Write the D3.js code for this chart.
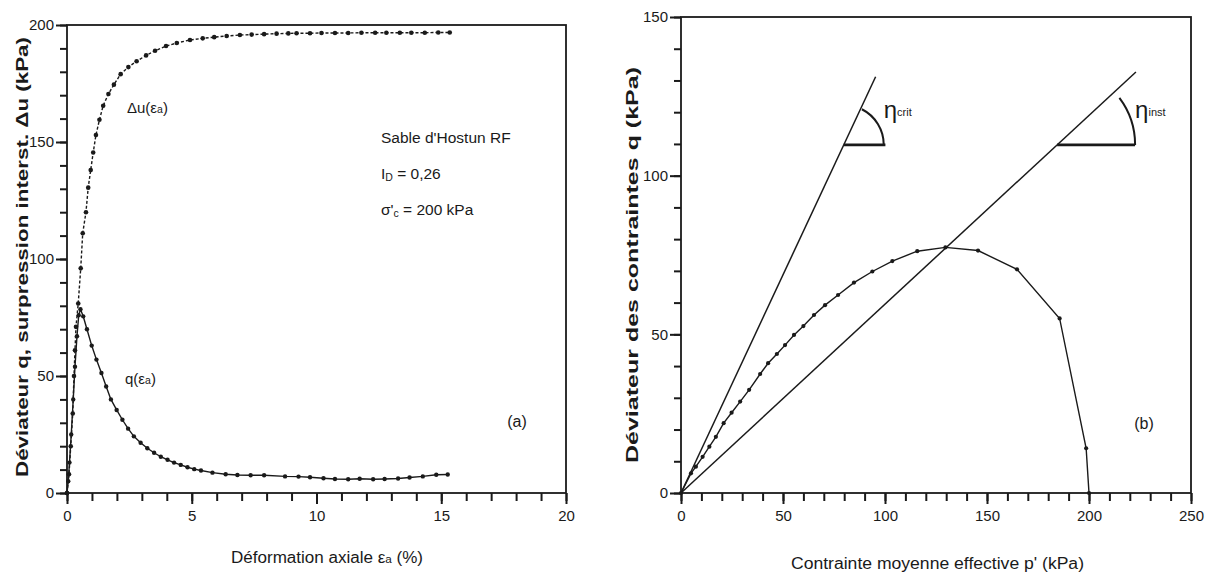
<!DOCTYPE html>
<html><head><meta charset="utf-8">
<script src="https://cdn.jsdelivr.net/npm/d3@7"></script>
<style>
body{margin:0;background:#fff;}
svg{display:block;}
text{font-family:"Liberation Sans Narrow","Liberation Sans",Arial,sans-serif;fill:#1a1a1a;}
</style></head>
<body>
<svg id="c" width="1212" height="579"></svg>
<script>
// ---------- data ----------
// (a) axial strain εa (%) vs pore pressure Δu (kPa)
const duStrain = [0,0.08,0.15,0.23,0.28,0.32,0.36,0.45,0.55,0.63,0.76,0.85,0.95,1.05,1.16,1.3,1.45,1.66,1.88,2.15,2.46,2.79,3.17,3.53,3.97,4.4,4.93,5.44,5.9,6.4,6.93,7.4,7.9,8.4,8.87,9.2,9.74,10.2,10.74,11.27,11.8,12.35,12.8,13.34,13.8,14.34,14.88,15.34];
const duValues = [0,8,20,34,50,61,71,81,96,111,120,130.5,138,145.5,153,159.5,165.5,170.5,174.5,179,182,184.5,187,189,191,192.3,193.6,194.3,194.8,195.3,195.7,195.9,196.1,196.3,196.4,196.5,196.5,196.6,196.6,196.6,196.7,196.7,196.7,196.7,196.7,196.7,196.8,196.8];
// (a) axial strain εa (%) vs deviator q (kPa)
const qStrain = [0,0.05,0.1,0.17,0.25,0.32,0.4,0.47,0.54,0.65,0.8,0.99,1.18,1.38,1.57,1.76,1.99,2.22,2.45,2.68,2.95,3.22,3.49,3.76,4.03,4.29,4.56,4.83,5.1,5.37,5.83,6.36,6.83,7.36,7.9,8.74,9.28,9.74,10.28,10.74,11.27,11.73,12.27,12.73,13.27,13.73,14.26,14.8,15.26];
const qValues = [0,5,13,25,40,54,67,76,78.5,75.5,70,63,57,51.3,45.5,40,35.5,31.3,27.5,24.2,21.5,19.1,17.2,15.5,14.2,13,12,11,10.2,9.6,8.7,8,7.7,7.6,7.6,7.1,7,6.7,6.3,6,5.9,6.1,5.9,6,6.2,6.6,7.1,7.8,7.9];
// (b) stress path p' (kPa) vs q (kPa)
const pathP = [200,198.6,185.6,164.7,145.6,129.6,115.8,103.6,93.8,84.8,77,70.6,65.2,60,55.4,51,47,42.7,38.8,33.4,29,24.8,20.9,17.1,13.9,10.6,7.3,4.9,0];
const pathQ = [0,14.1,55,70.5,76.4,77.4,76.2,73.1,69.8,66.3,62.4,59.2,56.1,52.6,49.8,46.6,43.8,40.9,37.5,32.5,28.8,25.3,22,17.7,14.6,11.4,8.3,6.2,0];
// (b) straight lines: slopes η_crit and η_inst (q/p'), end p'
const lineNames = ["crit","inst"];
const lineSlopes = [1.375,0.595];
const lineEndP = [95.4,223];
const symbolQ = [109.7,109.7];   // q level of the angle symbols
const symbolEndP = [100.2,222.6];

// tick values
const xTicksA = [0,5,10,15,20];
const yTicksA = [0,50,100,150,200];
const xTicksB = [0,50,100,150,200,250];
const yTicksB = [0,50,100,150];

// texts
const yLabelA = "Déviateur q, surpression interst. Δu (kPa)";
const yLabelB = "Déviateur des contraintes q (kPa)";
const infoLines = ["Sable d'Hostun RF","I|D| = 0,26","σ'|c| = 200 kPa"];

// ---------- drawing ----------
const svg = d3.select("#c");
const ink = "#1a1a1a";

const xA = d3.scaleLinear([0,20],[67,566]);
const yA = d3.scaleLinear([0,200],[493,25]);
const xB = d3.scaleLinear([0,250],[681,1191]);
const yB = d3.scaleLinear([0,150],[493,17]);

function axes(x, y, xt, yt, xMinorStep, yMinorStep){
  const g = svg.append("g");
  const [x0,x1] = x.domain(), [y0,y1] = y.domain();
  const xMinor = d3.range(x0, x1 + 1e-9, xMinorStep);
  const yMinor = d3.range(y0, y1 + 1e-9, yMinorStep);
  const noLabel = () => "";
  // minor ticks
  g.append("g").attr("color",ink).attr("transform",`translate(0,${y(y0)})`)
    .call(d3.axisBottom(x).tickValues(xMinor).tickSize(8).tickFormat(noLabel))
    .call(s=>s.select(".domain").remove());
  g.append("g").attr("color",ink).attr("transform",`translate(${x(x0)},0)`)
    .call(d3.axisLeft(y).tickValues(yMinor).tickSize(7).tickFormat(noLabel))
    .call(s=>s.select(".domain").remove());
  // major ticks + labels
  g.append("g").attr("color",ink).attr("transform",`translate(0,${y(y0)})`)
    .call(d3.axisBottom(x).tickValues(xt).tickSize(11).tickPadding(6).tickFormat(d3.format("d")))
    .call(s=>s.select(".domain").remove());
  g.append("g").attr("color",ink).attr("transform",`translate(${x(x0)},0)`)
    .call(d3.axisLeft(y).tickValues(yt).tickSize(11).tickPadding(2).tickFormat(d3.format("d")))
    .call(s=>s.select(".domain").remove());
  g.selectAll(".tick line").attr("stroke",ink).attr("stroke-width",2);
  g.selectAll(".tick text").attr("font-size",15).attr("fill",ink)
    .style("font-family",'"Liberation Sans Narrow","Liberation Sans",Arial,sans-serif');
  // frame
  g.append("rect").attr("x",x(x0)).attr("y",y(y1))
    .attr("width",x(x1)-x(x0)).attr("height",y(y0)-y(y1))
    .attr("fill","none").attr("stroke",ink).attr("stroke-width",1.8);
}
axes(xA, yA, xTicksA, yTicksA, 1, 10);
axes(xB, yB, xTicksB, yTicksB, 10, 10);

function series(x, y, xs, ys, dash, r){
  const pts = xs.map((v,i)=>[v, ys[i]]);
  svg.append("path").datum(pts)
    .attr("d", d3.line().x(d=>x(d[0])).y(d=>y(d[1])))
    .attr("fill","none").attr("stroke",ink).attr("stroke-width",1.4)
    .attr("stroke-dasharray",dash);
  svg.append("g").selectAll("circle").data(pts).join("circle")
    .attr("cx",d=>x(d[0])).attr("cy",d=>y(d[1])).attr("r",r).attr("fill",ink);
}
series(xA, yA, duStrain, duValues, "3,2", 2.3);
series(xA, yA, qStrain, qValues, null, 2.2);
series(xB, yB, pathP, pathQ, null, 2.1);

// straight lines and angle symbols in (b)
const arcR = [40, 78];
const arcStart = [63, 37];
lineNames.forEach((n,i)=>{
  const s = lineSlopes[i];
  svg.append("line")
    .attr("x1",xB(0)).attr("y1",yB(0))
    .attr("x2",xB(lineEndP[i])).attr("y2",yB(lineEndP[i]*s))
    .attr("stroke",ink).attr("stroke-width",1.5);
  const cx = xB(symbolQ[i]/s), cy = yB(symbolQ[i]);
  svg.append("line").attr("x1",cx).attr("y1",cy)
    .attr("x2",xB(symbolEndP[i])).attr("y2",cy)
    .attr("stroke",ink).attr("stroke-width",2.8);
  const r = arcR[i], a = arcStart[i]*Math.PI/180;
  svg.append("path")
    .attr("d",`M${cx + r*Math.cos(a)},${cy - r*Math.sin(a)} A${r},${r} 0 0 1 ${cx + r},${cy}`)
    .attr("fill","none").attr("stroke",ink).attr("stroke-width",2);
  const t = svg.append("text")
    .attr("x", cx + r).attr("y", cy - 27);
  t.append("tspan").attr("font-size",24).text("η");
  t.append("tspan").attr("font-size",11).attr("dy",-2).text(n);
});

// axis titles
svg.append("text").attr("transform","translate(24,257) rotate(-90)")
  .attr("text-anchor","middle").attr("dominant-baseline","middle")
  .attr("font-size",17).attr("font-weight","bold")
  .attr("textLength",440).attr("lengthAdjust","spacingAndGlyphs")
  .text(yLabelA);
svg.append("text").attr("transform","translate(634,265) rotate(-90)")
  .attr("text-anchor","middle").attr("dominant-baseline","middle")
  .attr("font-size",17).attr("font-weight","bold")
  .attr("textLength",396).attr("lengthAdjust","spacingAndGlyphs")
  .text(yLabelB);

const xlA = svg.append("text").attr("x",231).attr("y",563).attr("font-size",16)
  .attr("textLength",192).attr("lengthAdjust","spacingAndGlyphs");
xlA.append("tspan").text("Déformation axiale ε");
xlA.append("tspan").attr("font-size",11).text("a");
xlA.append("tspan").text(" (%)");
svg.append("text").attr("x",791).attr("y",569).attr("font-size",16)
  .attr("textLength",293).attr("lengthAdjust","spacingAndGlyphs")
  .text("Contrainte moyenne effective p' (kPa)");

// curve labels in (a)
function subLabel(x, y, main, sub, tail, fs){
  const t = svg.append("text").attr("x",x).attr("y",y).attr("font-size",fs);
  t.append("tspan").text(main);
  t.append("tspan").attr("font-size",fs*0.7).text(sub);
  t.append("tspan").text(tail);
}
subLabel(127, 113, "Δu(ε", "a", ")", 15);
subLabel(125, 384, "q(ε", "a", ")", 15);

// info block
infoLines.forEach((s,i)=>{
  const parts = s.split("|");
  const t = svg.append("text").attr("x",381).attr("y",143 + i*36).attr("font-size",15.5);
  t.append("tspan").text(parts[0]);
  if(parts.length>1){
    t.append("tspan").attr("font-size",10.5).attr("dy",2).text(parts[1]);
    t.append("tspan").attr("dy",-2).text(parts[2]);
  }
});

svg.append("text").attr("x",517).attr("y",427).attr("font-size",16).attr("text-anchor","middle").text("(a)");
svg.append("text").attr("x",1144).attr("y",429).attr("font-size",16).attr("text-anchor","middle").text("(b)");
</script>
</body></html>
